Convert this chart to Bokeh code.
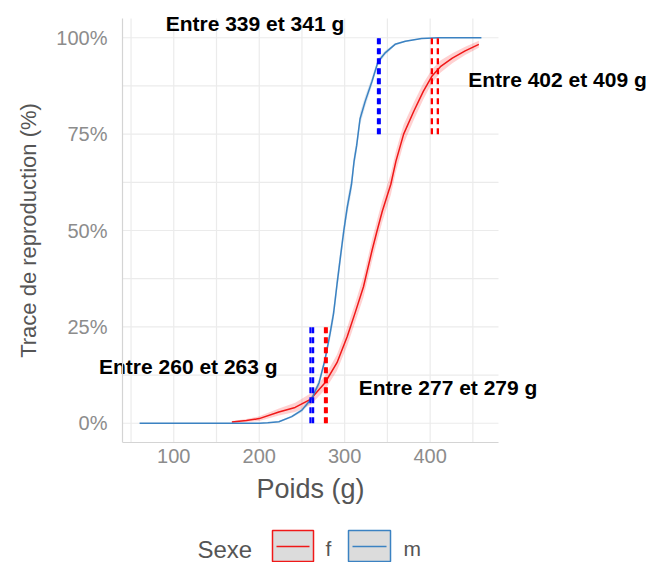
from bokeh.plotting import figure
from bokeh.models import Range1d, FixedTicker, LinearAxis, ColumnDataSource
from bokeh.layouts import column
from bokeh.core.properties import value
from bokeh.embed import file_html
from bokeh.resources import INLINE

# ---------------- data ----------------
m_x = [60, 100, 150, 200, 210, 223, 238, 250, 262, 270, 277, 283, 287, 291, 295, 299, 303,
       308, 311, 314, 318, 324, 332, 339, 347, 359, 371, 390, 410, 460]
m_y = [0, 0, 0, 0, 0.001, 0.004, 0.017, 0.034, 0.066, 0.105, 0.165, 0.234, 0.285, 0.36, 0.431,
       0.50, 0.56, 0.62, 0.68, 0.72, 0.79, 0.835, 0.887, 0.938, 0.96, 0.983, 0.991, 0.998, 1.0, 1.0]
m_se = [0, 0, 0, 0, 0.001, 0.002, 0.003, 0.005, 0.008, 0.010, 0.012, 0.016, 0.018, 0.02, 0.02,
        0.02, 0.02, 0.02, 0.018, 0.017, 0.016, 0.014, 0.011, 0.008, 0.006, 0.003, 0.002, 0.001, 0, 0]

f_x = [168, 185, 200, 223, 242, 260, 277, 291, 303, 312, 322, 332, 338, 344, 354, 360, 369,
       381, 392, 402, 412, 426, 441, 457]
f_y = [0.003, 0.007, 0.012, 0.029, 0.041, 0.062, 0.105, 0.157, 0.225, 0.285, 0.354, 0.448,
       0.50, 0.55, 0.62, 0.68, 0.75, 0.81, 0.861, 0.90, 0.925, 0.947, 0.966, 0.983]
f_se = [0.003, 0.004, 0.006, 0.009, 0.012, 0.015, 0.018, 0.021, 0.024, 0.025, 0.027, 0.028,
        0.028, 0.028, 0.028, 0.027, 0.025, 0.023, 0.021, 0.018, 0.016, 0.013, 0.011, 0.009]

# threshold weights (dashed vertical markers)
m_cut_x = [260, 263, 339, 341]
m_cut_lo = [0, 0, 0.75, 0.75]
m_cut_hi = [0.25, 0.25, 1.0, 1.0]
f_cut_x = [277, 279, 402, 409]
f_cut_lo = [0, 0, 0.75, 0.75]
f_cut_hi = [0.25, 0.25, 1.0, 1.0]

ann_text = ["Entre 339 et 341 g", "Entre 402 et 409 g", "Entre 260 et 263 g", "Entre 277 et 279 g"]
ann_x = [195, 549, 117, 421]
ann_y = [1.036, 0.892, 0.147, 0.093]

x_ticks = [100, 200, 300, 400]
x_minor = [50, 150, 250, 350, 450]
y_ticks = [0, 0.25, 0.5, 0.75, 1.0]
y_minor = [0.125, 0.375, 0.625, 0.875]
y_tick_labels = ["0%", "25%", "50%", "75%", "100%"]

x_title = "Poids (g)"
y_title = "Trace de reproduction (%)"
legend_title = "Sexe"
legend_labels = ["f", "m"]

RED = "#f01818"
BLUE = "#3b82c2"
FONT = "Liberation Sans"

# panel extent (data units) and pixel geometry
XB = (40, 480)
YB = (-0.05, 1.05)
W = 649
PX_LEFT, PX_RIGHT, PX_TOP = 122, 498, 18        # panel edges on the page
FH = 442                                          # frame height (panel bottom at 442)
MAIN_H = 471
sx = (PX_RIGHT - PX_LEFT) / (XB[1] - XB[0])
x_start = XB[0] - PX_LEFT / sx
x_end = XB[1] + (W - PX_RIGHT) / sx
sy = (FH - PX_TOP) / (YB[1] - YB[0])
y_end = YB[1] + PX_TOP / sy

# ---------------- main plot ----------------
p = figure(frame_width=W, frame_height=FH, x_range=Range1d(x_start, x_end),
           y_range=Range1d(YB[0], y_end), y_axis_location=None,
           output_backend="svg", toolbar_location=None,
           min_border_left=0, min_border_right=0, min_border_top=0,
           min_border_bottom=MAIN_H - FH)
p.outline_line_color = None
p.background_fill_color = "white"
p.xgrid.visible = False
p.ygrid.visible = False

xt = FixedTicker(ticks=x_ticks, minor_ticks=x_minor)
yt = FixedTicker(ticks=y_ticks, minor_ticks=y_minor)
p.xaxis.ticker = xt
p.xaxis.bounds = XB
yaxis = LinearAxis(ticker=yt, fixed_location=XB[0], bounds=YB)
yaxis.major_label_overrides = {t: l for t, l in zip(y_ticks, y_tick_labels)}
p.add_layout(yaxis, "left")

for ax in (p.xaxis[0], yaxis):
    ax.major_tick_out = 0
    ax.major_tick_in = 0
    ax.minor_tick_out = 0
    ax.minor_tick_in = 0
    ax.axis_line_color = "#d4d4d4"
    ax.axis_line_width = 1.2
    ax.major_label_text_font = FONT
    ax.major_label_text_font_size = "20px"
    ax.major_label_text_color = "#8c8c8c"
    ax.axis_label_text_font = FONT
    ax.axis_label_text_font_style = "normal"
    ax.axis_label_text_color = "#555555"

yaxis.axis_label = y_title
yaxis.axis_label_text_font_size = "22px"
p.xaxis.major_label_standoff = 6
yaxis.major_label_standoff = 15
yaxis.axis_label_standoff = 12

# panel grid (major and minor), drawn from the tick lists
gx = x_ticks + x_minor
gy = y_ticks + y_minor
p.segment(x0=gx, y0=[YB[0]] * len(gx), x1=gx, y1=[YB[1]] * len(gx),
          line_color="#ebebeb", line_width=1.2)
p.segment(x0=[XB[0]] * len(gy), y0=gy, x1=[XB[1]] * len(gy), y1=gy,
          line_color="#ebebeb", line_width=1.2)

f_lo = [y - s for y, s in zip(f_y, f_se)]
f_hi = [y + s for y, s in zip(f_y, f_se)]
m_lo = [y - s for y, s in zip(m_y, m_se)]
m_hi = [y + s for y, s in zip(m_y, m_se)]

p.varea(x=f_x, y1=f_lo, y2=f_hi, fill_color="#ff0000", fill_alpha=0.18)
p.varea(x=m_x, y1=m_lo, y2=m_hi, fill_color="#4682b4", fill_alpha=0.2)
p.line(f_x, f_y, line_color=RED, line_width=1.5)
p.line(m_x, m_y, line_color=BLUE, line_width=1.5)

p.segment(x0=m_cut_x, y0=m_cut_lo, x1=m_cut_x, y1=m_cut_hi, line_color="#0000ff",
          line_width=2.3, line_dash="6 4")
p.segment(x0=f_cut_x, y0=f_cut_lo, x1=f_cut_x, y1=f_cut_hi, line_color="#ff0000",
          line_width=2.3, line_dash="6 4")

ann_src = ColumnDataSource(dict(x=ann_x, y=ann_y, text=ann_text))
p.text(x="x", y="y", text="text", source=ann_src, text_font=value(FONT), text_font_size="21px",
       text_font_style="bold", text_color="black", text_align="center", text_baseline="middle")

# ---------------- x title + legend strip (page-pixel coordinates) ----------------
SH = 562 - MAIN_H
lf = figure(frame_width=W, frame_height=SH, x_range=Range1d(0, W), y_range=Range1d(MAIN_H + SH, MAIN_H),
            output_backend="svg", toolbar_location=None, min_border=0,
            min_border_left=0, min_border_right=0, min_border_top=0, min_border_bottom=0)
lf.axis.visible = False
lf.grid.visible = False
lf.outline_line_color = None

lf.text(x=[(PX_LEFT + PX_RIGHT) / 2], y=[488], text=[x_title], text_font=value(FONT),
        text_font_size="27px", text_color="#555555", text_baseline="middle", text_align="center")

key_left = [272, 348]
key_right = [313, 390]
key_cols = [RED, BLUE]
lf.quad(left=key_left, right=key_right, top=[530, 530], bottom=[561, 561], fill_color="#dcdcdc",
        line_color=key_cols, line_width=1.5)
lf.segment(x0=[k + 4 for k in key_left], y0=[546, 546], x1=[k - 4 for k in key_right], y1=[546, 546],
           line_color=key_cols, line_width=1.5)
lf.text(x=[197], y=[548.5], text=[legend_title], text_font=value(FONT), text_font_size="24px",
        text_color="#555555", text_baseline="middle", text_align="left")
lf.text(x=[325, 403], y=[548, 548], text=legend_labels, text_font=value(FONT), text_font_size="21px",
        text_color="#555555", text_baseline="middle", text_align="left")

layout = column(p, lf, spacing=0)
open("out.html", "w").write(file_html(layout, INLINE))
